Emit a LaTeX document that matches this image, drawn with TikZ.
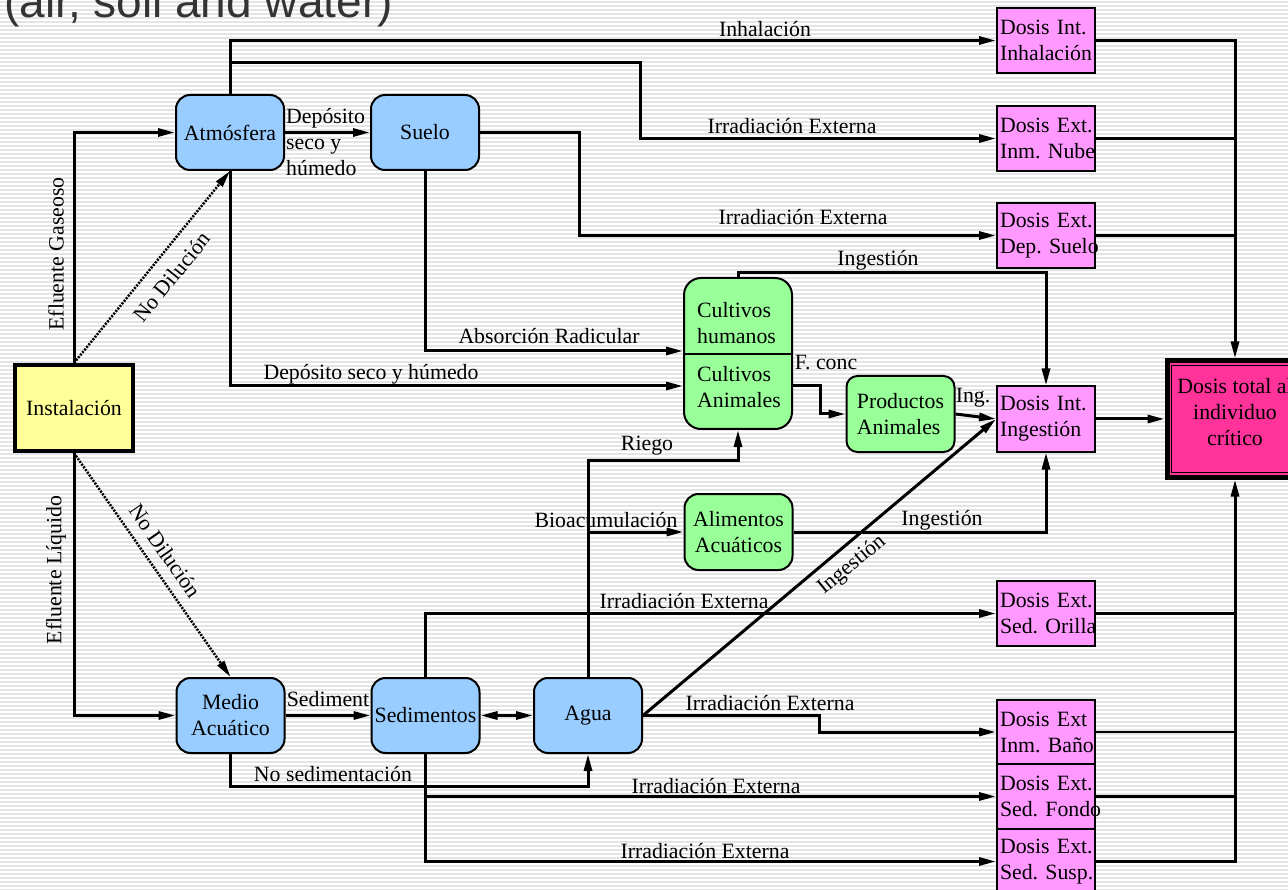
\documentclass[tikz,border=0pt]{standalone}
\usepackage{fontspec}
\setmainfont{Liberation Serif}
\newfontfamily\titlefont{Liberation Sans}
\usetikzlibrary{arrows.meta,calc}
\definecolor{cblue}{HTML}{99CCFF}
\definecolor{cgreen}{HTML}{99FF99}
\definecolor{cpink}{HTML}{FF99FF}
\definecolor{cyel}{HTML}{FFFF99}
\definecolor{cmag}{HTML}{FF3399}
\definecolor{cstripe}{HTML}{E4E4E4}
\newcommand\twolines[2]{\mbox{#1}\\\mbox{#2}}
\tikzset{
  tip/.tip={Triangle[length=17pt,width=8pt]},
  conn/.style={line width=3pt,-tip},
  conntwo/.style={line width=3pt,tip-tip},
  dotconn/.style={line width=2.5pt,dash pattern=on 2pt off 1.3pt,-tip},
  thinwire/.style={line width=2.1pt},
  bluebox/.style={draw,line width=2pt,fill=cblue,rounded corners=14pt,minimum width=108pt,minimum height=75pt,align=center,inner sep=1pt},
  greenbox/.style={draw,line width=2pt,fill=cgreen,rounded corners=14pt,minimum width=108pt,minimum height=76pt,align=center,inner sep=1pt},
  dosebox/.style={draw,line width=2pt,fill=cpink,minimum height=65pt,text width=92pt,align=left,inner xsep=3pt,inner ysep=0pt},
  lbl/.style={inner sep=0pt},
  stripe/.style={line width=1.6pt,draw=cstripe}
}
\begin{document}
\frenchspacing
\begin{tikzpicture}[x=1pt,y=-1pt,font=\fontsize{21.8}{26}\selectfont\frenchspacing]
\path[use as bounding box,clip] (0,0) rectangle (1288,890);
\fill[white] (0,0) rectangle (1288,890);
\foreach \yy in {2,6,...,890} \draw[stripe] (0,\yy) -- (1288,\yy);

\node[anchor=base west,inner sep=0pt,font=\titlefont\fontsize{46}{50}\selectfont,text=black!80] (title) at (4,18) {(air, soil and water)};

% nodes
\node[draw,line width=4pt,fill=cyel,minimum width=118pt,minimum height=86pt] (inst) at (74,408) {Instalación};
\node[bluebox] (atm) at (230,132.5) {Atmósfera};
\node[bluebox] (suelo) at (425,132.5) {Suelo};
\node[bluebox] (medio) at (230.5,715.5) {Medio\\Acuático};
\node[bluebox] (sedim) at (425.5,715.5) {Sedimentos};
\node[bluebox] (agua) at (588,715.5) {Agua};
\node[draw,line width=2pt,fill=cgreen,rounded corners=17pt,minimum width=108pt,minimum height=151pt] (cult) at (738,353.5) {};
\draw[line width=2pt] (cult.west |- 0,354) -- (cult.east |- 0,354);
\node[lbl,align=left,anchor=west] (cth) at (697,323) {Cultivos\\humanos};
\node[lbl,align=left,anchor=west] (cta) at (697,387) {Cultivos\\Animales};
\node[greenbox,align=left,rounded corners=11pt] (prod) at (900.5,414) {Productos\\Animales};
\node[greenbox] (alim) at (738.5,532) {Alimentos\\Acuáticos};

\node[dosebox] (inh) at (1046,40.5) {\twolines{Dosis Int.}{Inhalación}};
\node[dosebox] (nube) at (1046,138.5) {\twolines{Dosis Ext.}{Inm. Nube}};
\node[dosebox] (dsuelo) at (1046,235.5) {\twolines{Dosis Ext.}{Dep. Suelo}};
\node[dosebox] (ing) at (1046,419) {\twolines{Dosis Int.}{Ingestión}};
\node[dosebox] (ori) at (1046,613.5) {\twolines{Dosis Ext.}{Sed. Orilla}};
\node[dosebox] (bano) at (1046,732) {\twolines{Dosis Ext}{Inm. Baño}};
\node[dosebox] (fondo) at (1046,796.5) {\twolines{Dosis Ext.}{Sed. Fondo}};
\node[dosebox] (susp) at (1046,861.5) {\twolines{Dosis Ext.}{Sed. Susp.}};

\node[draw,line width=5pt,fill=cmag,minimum width=136pt,minimum height=116pt] (total) at (1235,419) {};
\draw[line width=1.5pt] ([shift={(7,7)}]total.north west) rectangle ([shift={(-7,-7)}]total.south east);
\node[lbl,align=center] (totaltxt) at (1235,412) {Dosis total al\\individuo\\crítico};

% connectors from Instalación
\draw[conn] (inst.north) |- (atm.west);
\node[lbl,rotate=90] at (56,254) {Efluente Gaseoso};
\draw[dotconn] (inst.north) -- (atm.south);
\node[lbl,rotate=51.2] at (172,277) {No Dilución};
\draw[conn] (inst.south) |- (medio.west);
\node[lbl,rotate=90] at (56,570) {Efluente Líquido};
\draw[dotconn] (inst.south) -- (medio.north);
\node[lbl,rotate=-55.3] at (165,551) {No Dilución};

% atmosphere and soil
\draw[conn] (atm.east) -- (suelo.west);
\node[lbl,align=left,anchor=west] at (286,142) {Depósito\\seco y\\húmedo};
\draw[conn] (atm.north) |- (inh.west);
\node[lbl] at (765,29) {Inhalación};
\draw[conn] (atm.north |- 0,63) -- (640,63) |- (nube.west);
\node[lbl] at (792,126) {Irradiación Externa};
\draw[conn] (suelo.east) -- (579,132.5) |- (dsuelo.west);
\node[lbl] at (803,217) {Irradiación Externa};
\draw[conn] (suelo.south) |- (cult.west |- 0,351);
\node[lbl] at (549,336) {Absorción Radicular};
\draw[conn] (atm.south) |- (cult.west |- 0,386);
\node[lbl] at (371,374) {Depósito seco y húmedo};

% crops
\draw[conn] (cult.north) |- (ing.north |- 0,273) -- (ing.north);
\node[lbl] at (878,260) {Ingestión};
\draw[conn] (cult.east |- 0,386) -- (820,386) |- (prod.west);
\node[lbl] at (826,363) {F. conc};
\draw[conn] (prod.east) -- (ing.west);
\node[lbl] at (973,398) {Ing.};
\draw[conn] (agua.east) -- (ing.west);
\node[lbl,rotate=39.6] at (852,565) {Ingestión};
\draw[conn] (ing.east) -- (total.west);
\draw[conn] (agua.north) |- (cult.south |- 0,460) -- (cult.south);
\node[lbl] at (647,446) {Riego};
\draw[conn] (agua.north |- alim.west) -- (alim.west);
\node[lbl] at (606,520) {Bioacumulación};
\draw[conn] (alim.east) -| (ing.south);
\node[lbl] at (942,520) {Ingestión};

% water pathways
\draw[conn] (medio.east) -- (sedim.west);
\node[lbl] at (328,699) {Sediment};
\draw[conntwo] (sedim.east) -- (agua.west);
\draw[conn] (medio.south) |- (agua.south |- 0,786) -- (agua.south);
\node[lbl] at (333,774) {No sedimentación};
\draw[conn] (sedim.north) |- (ori.west);
\node[lbl] at (684,601) {Irradiación Externa};
\draw[conn] (agua.east) -- (819,715.5) |- (bano.west);
\node[lbl] at (770,703) {Irradiación Externa};
\draw[conn] (sedim.south) |- (fondo.west);
\node[lbl] at (716,786) {Irradiación Externa};
\draw[conn] (sedim.south) |- (susp.west);
\node[lbl] at (705,851) {Irradiación Externa};

% collectors
\draw[conn] (inh.east) -| (total.north);
\draw[thinwire] (nube.east) -- (total.north |- nube.east);
\draw[thinwire] (dsuelo.east) -- (total.north |- dsuelo.east);
\draw[conn] (susp.east) -| (total.south);
\draw[thinwire] (ori.east) -- (total.south |- ori.east);
\draw[thinwire] (bano.east) -- (total.south |- bano.east);
\draw[thinwire] (fondo.east) -- (total.south |- fondo.east);
\end{tikzpicture}
\end{document}
